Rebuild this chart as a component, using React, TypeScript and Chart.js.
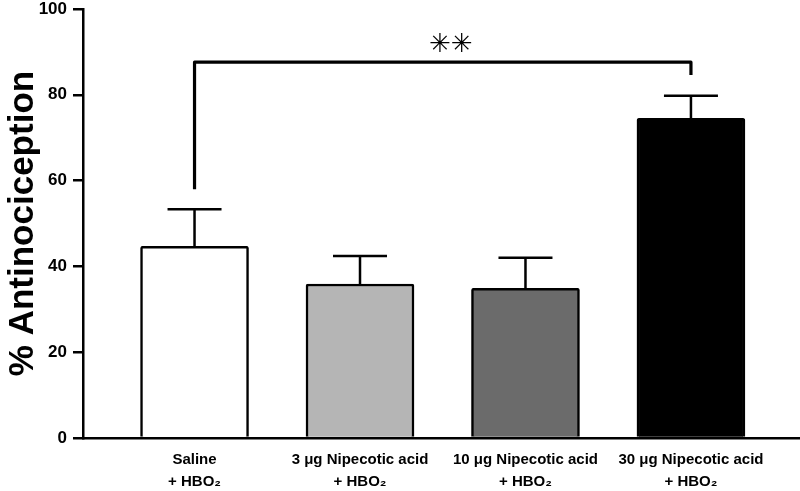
import React, { useEffect, useRef } from "react";
import { Chart, registerables } from "chart.js";

Chart.register(...registerables);

const categories: string[][] = [
  ["Saline", "+ HBO₂"],
  ["3 μg Nipecotic acid", "+ HBO₂"],
  ["10 μg Nipecotic acid", "+ HBO₂"],
  ["30 μg Nipecotic acid", "+ HBO₂"],
];
const means = [44.7, 35.9, 34.9, 74.5];
const sem = [8.6, 6.5, 7.1, 5.3];
const barColors = ["#ffffff", "#b5b5b5", "#6b6b6b", "#000000"];
const yTicks = [0, 20, 40, 60, 80, 100];
const bracketGroups = [0, 3];
const bracketLevels = [58, 87.6, 84.6]; // left leg end, bar, right leg end
const significance = "✳✳";
const sigPosition = [1.55, 91.6];
const yTitle = "% Antinociception";

const annotations = {
  id: "annotations",
  afterDatasetsDraw(chart: any) {
    const { ctx } = chart;
    const x = chart.scales.x;
    const y = chart.scales.y;
    ctx.save();
    ctx.strokeStyle = "#000";
    ctx.lineWidth = 2.5;
    means.forEach((m, i) => {
      const px = x.getPixelForValue(i);
      const top = y.getPixelForValue(m);
      const cap = y.getPixelForValue(m + sem[i]);
      ctx.beginPath();
      ctx.moveTo(px, top);
      ctx.lineTo(px, cap);
      ctx.moveTo(px - 27, cap);
      ctx.lineTo(px + 27, cap);
      ctx.stroke();
    });
    ctx.lineWidth = 3.2;
    ctx.lineJoin = "round";
    const x0 = x.getPixelForValue(bracketGroups[0]);
    const x1 = x.getPixelForValue(bracketGroups[1]);
    ctx.beginPath();
    ctx.moveTo(x0, y.getPixelForValue(bracketLevels[0]));
    ctx.lineTo(x0, y.getPixelForValue(bracketLevels[1]));
    ctx.lineTo(x1, y.getPixelForValue(bracketLevels[1]));
    ctx.lineTo(x1, y.getPixelForValue(bracketLevels[2]));
    ctx.stroke();
    ctx.fillStyle = "#000";
    ctx.font = '26px "DejaVu Sans"';
    ctx.textAlign = "center";
    ctx.textBaseline = "middle";
    ctx.fillText(significance, x.getPixelForValue(sigPosition[0]), y.getPixelForValue(sigPosition[1]));
    ctx.restore();
  },
};

export default function App() {
  const ref = useRef<HTMLCanvasElement>(null);
  useEffect(() => {
    if (!ref.current) return;
    const chart = new Chart(ref.current, {
      type: "bar",
      data: {
        datasets: [
          {
            data: means.map((m, i) => ({ x: i, y: m })),
            backgroundColor: barColors,
            borderColor: "#000",
            borderWidth: 2.5,
            borderRadius: 2,
            barThickness: 108,
          },
        ],
      },
      options: {
        animation: false,
        responsive: false,
        layout: { padding: { top: 9, left: 0, right: 0, bottom: 0 } },
        plugins: { legend: { display: false }, tooltip: { enabled: false } },
        scales: {
          x: {
            type: "linear",
            min: -0.674,
            max: 3.659,
            offset: false,
            afterBuildTicks: (s: any) => {
              s.ticks = categories.map((_, i) => ({ value: i }));
            },
            ticks: {
              callback: (v: any) => categories[v as number],
              color: "#000",
              font: { family: '"Liberation Sans", Arial, sans-serif', weight: "bold", size: 15, lineHeight: 1.45 },
              maxRotation: 0,
              autoSkip: false,
              padding: 11,
            },
            grid: { display: false, drawTicks: false, offset: false },
            border: { display: true, color: "#000", width: 2.5 },
            afterFit: (s: any) => {
              s.height = 53;
              s.paddingLeft = 0;
              s.paddingRight = 0;
            },
          },
          y: {
            min: 0,
            max: 100,
            afterBuildTicks: (s: any) => {
              s.ticks = yTicks.map((v) => ({ value: v }));
            },
            ticks: {
              color: "#000",
              font: { family: '"Liberation Sans", Arial, sans-serif', weight: "bold", size: 17 },
              padding: 6,
            },
            grid: { drawOnChartArea: false, drawTicks: true, tickLength: 10, color: "#000", lineWidth: 2.5 },
            border: { display: true, color: "#000", width: 2.5 },
            title: {
              display: true,
              text: yTitle,
              color: "#000",
              font: { family: '"Liberation Sans", Arial, sans-serif', weight: "bold", size: 35 },
              padding: { top: 2, bottom: 0 },
            },
            afterFit: (s: any) => {
              s.width = 83;
              s.paddingTop = 0;
              s.paddingBottom = 0;
            },
          },
        },
      },
      plugins: [annotations],
    } as any);
    return () => chart.destroy();
  }, []);
  return (
    <div style={{ position: "absolute", left: 0, top: 0, width: 800, height: 491, background: "#fff" }}>
      <canvas ref={ref} width={800} height={491} />
    </div>
  );
}
